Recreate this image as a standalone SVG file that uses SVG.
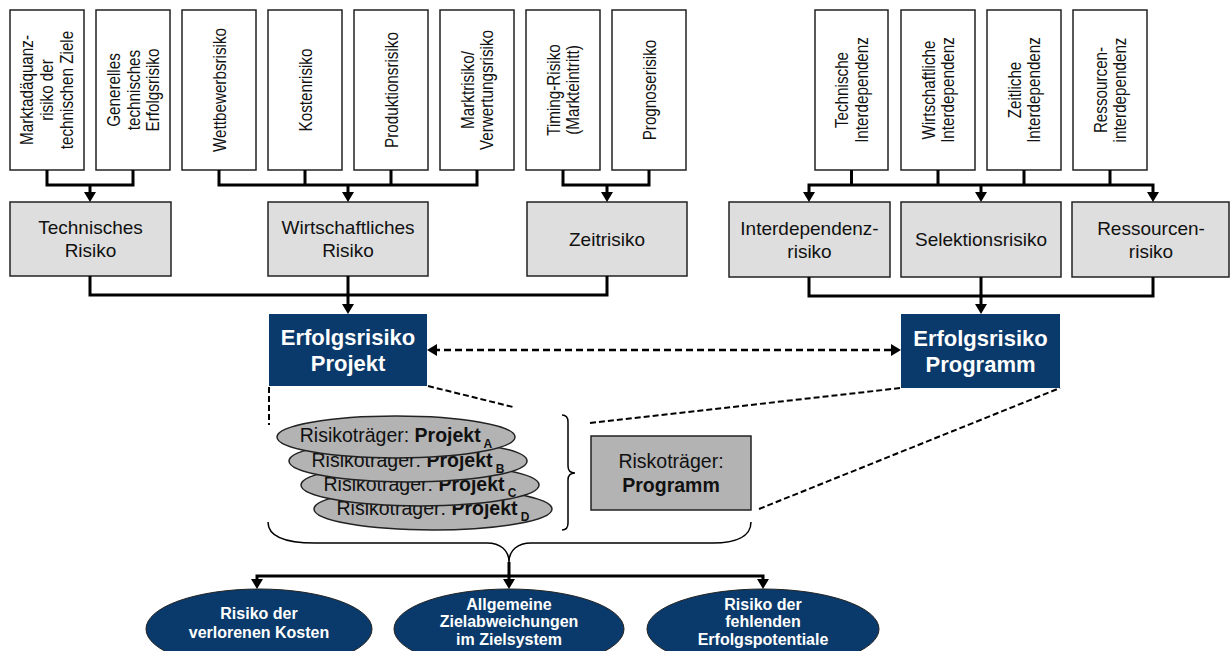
<svg xmlns="http://www.w3.org/2000/svg" width="1230" height="651" viewBox="0 0 1230 651">
  <defs>
    <style>
      text { font-family: "Liberation Sans", Arial, sans-serif; fill: #111; }
      .src { fill: #fff; stroke: #222; stroke-width: 1.5; }
      .vt { font-size: 17.5px; text-anchor: middle; }
      .cat { fill: #dedede; stroke: #222; stroke-width: 1.5; }
      .ct { font-size: 19px; text-anchor: middle; }
      .blue { fill: #0a3a6b; }
      .bt { font-size: 22px; font-weight: bold; fill: #fff; text-anchor: middle; }
      .car { fill: #b3b3b3; stroke: #222; stroke-width: 1.5; }
      .et { font-size: 19.5px; text-anchor: middle; }
      .b { font-weight: bold; }
      .sub { font-size: 12px; font-weight: bold; }
      .ot { font-size: 16px; font-weight: bold; fill: #fff; text-anchor: middle; }
      .ln { fill: none; stroke: #000; stroke-width: 3; stroke-linejoin: miter; }
      .dash { fill: none; stroke: #000; stroke-width: 2.5; stroke-dasharray: 7 4; }
      .dl { fill: none; stroke: #000; stroke-width: 2; stroke-dasharray: 6 3; }
      .brace { fill: none; stroke: #000; stroke-width: 1.5; }
    </style>
    <marker id="ah" markerUnits="userSpaceOnUse" viewBox="0 0 10 12" markerWidth="10" markerHeight="12" refX="4" refY="6" orient="auto-start-reverse">
      <path d="M0,0 L10,6 L0,12 Z" fill="#000" stroke="none"/>
    </marker>
  </defs>

  <!-- detailed risk sources (rotated, slightly condensed labels) -->
  <g id="src-marktadaequanz">
    <rect class="src" x="10" y="10" width="74" height="160"/>
    <text class="vt" transform="translate(47,90) rotate(-90) scale(0.87,1)"><tspan x="0" y="-14">Marktadäquanz-</tspan><tspan x="0" y="6">risiko der</tspan><tspan x="0" y="26">technischen Ziele</tspan></text>
  </g>
  <g id="src-generell">
    <rect class="src" x="96" y="10" width="74" height="160"/>
    <text class="vt" transform="translate(133,90) rotate(-90) scale(0.87,1)"><tspan x="0" y="-13">Generelles</tspan><tspan x="0" y="6.5">technisches</tspan><tspan x="0" y="26">Erfolgsrisiko</tspan></text>
  </g>
  <g id="src-wettbewerb">
    <rect class="src" x="182" y="10" width="74" height="160"/>
    <text class="vt" transform="translate(219,90) rotate(-90) scale(0.87,1)"><tspan x="0" y="6.5">Wettbewerbsrisiko</tspan></text>
  </g>
  <g id="src-kosten">
    <rect class="src" x="268" y="10" width="74" height="160"/>
    <text class="vt" transform="translate(305,90) rotate(-90) scale(0.87,1)"><tspan x="0" y="6.5">Kostenrisiko</tspan></text>
  </g>
  <g id="src-produktion">
    <rect class="src" x="354" y="10" width="74" height="160"/>
    <text class="vt" transform="translate(391,90) rotate(-90) scale(0.87,1)"><tspan x="0" y="6.5">Produktionsrisiko</tspan></text>
  </g>
  <g id="src-markt">
    <rect class="src" x="440" y="10" width="74" height="160"/>
    <text class="vt" transform="translate(477,90) rotate(-90) scale(0.87,1)"><tspan x="0" y="-3.5">Marktrisiko/</tspan><tspan x="0" y="16">Verwertungsrisiko</tspan></text>
  </g>
  <g id="src-timing">
    <rect class="src" x="526" y="10" width="74" height="160"/>
    <text class="vt" transform="translate(563,90) rotate(-90) scale(0.87,1)"><tspan x="0" y="-3.5">Timing-Risiko</tspan><tspan x="0" y="16">(Markteintritt)</tspan></text>
  </g>
  <g id="src-prognose">
    <rect class="src" x="612" y="10" width="74" height="160"/>
    <text class="vt" transform="translate(649,90) rotate(-90) scale(0.87,1)"><tspan x="0" y="6.5">Prognoserisiko</tspan></text>
  </g>
  <g id="src-tech-interdep">
    <rect class="src" x="815" y="10" width="73" height="160"/>
    <text class="vt" transform="translate(851.5,90) rotate(-90) scale(0.87,1)"><tspan x="0" y="-3.5">Technische</tspan><tspan x="0" y="16">Interdependenz</tspan></text>
  </g>
  <g id="src-wirt-interdep">
    <rect class="src" x="901" y="10" width="74" height="160"/>
    <text class="vt" transform="translate(938,90) rotate(-90) scale(0.87,1)"><tspan x="0" y="-3.5">Wirtschaftliche</tspan><tspan x="0" y="16">Interdependenz</tspan></text>
  </g>
  <g id="src-zeit-interdep">
    <rect class="src" x="987" y="10" width="74" height="160"/>
    <text class="vt" transform="translate(1024,90) rotate(-90) scale(0.87,1)"><tspan x="0" y="-3.5">Zeitliche</tspan><tspan x="0" y="16">Interdependenz</tspan></text>
  </g>
  <g id="src-ressourcen-interdep">
    <rect class="src" x="1073" y="10" width="74" height="160"/>
    <text class="vt" transform="translate(1110,90) rotate(-90) scale(0.87,1)"><tspan x="0" y="-3.5">Ressourcen-</tspan><tspan x="0" y="16">interdependenz</tspan></text>
  </g>

  <!-- risk categories -->
  <g id="cat-technisch">
    <rect class="cat" x="10" y="202" width="161" height="74"/>
    <text class="ct" x="90.5" y="234">Technisches</text>
    <text class="ct" x="90.5" y="257">Risiko</text>
  </g>
  <g id="cat-wirtschaftlich">
    <rect class="cat" x="268" y="202" width="160" height="74"/>
    <text class="ct" x="348" y="234">Wirtschaftliches</text>
    <text class="ct" x="348" y="257">Risiko</text>
  </g>
  <g id="cat-zeit">
    <rect class="cat" x="527" y="202" width="160" height="74"/>
    <text class="ct" x="607" y="246">Zeitrisiko</text>
  </g>
  <g id="cat-interdependenz">
    <rect class="cat" x="729" y="202" width="161" height="75"/>
    <text class="ct" x="809.5" y="235">Interdependenz-</text>
    <text class="ct" x="809.5" y="258">risiko</text>
  </g>
  <g id="cat-selektion">
    <rect class="cat" x="901" y="202" width="160" height="75"/>
    <text class="ct" x="981" y="246">Selektionsrisiko</text>
  </g>
  <g id="cat-ressourcen">
    <rect class="cat" x="1072" y="202" width="157" height="75"/>
    <text class="ct" x="1151" y="235">Ressourcen-</text>
    <text class="ct" x="1151" y="258">risiko</text>
  </g>

  <!-- aggregated success risk -->
  <g id="erfolg-projekt">
    <rect class="blue" x="269" y="314" width="158" height="72"/>
    <text class="bt" x="348" y="345">Erfolgsrisiko</text>
    <text class="bt" x="348" y="371">Projekt</text>
  </g>
  <g id="erfolg-programm">
    <rect class="blue" x="901" y="314" width="159" height="74"/>
    <text class="bt" x="980.5" y="346">Erfolgsrisiko</text>
    <text class="bt" x="980.5" y="372">Programm</text>
  </g>

  <!-- risk carriers: stacked projects (back to front) -->
  <g id="traeger-projekt-d">
    <ellipse class="car" cx="433" cy="509" rx="119" ry="21"/>
    <text class="et" x="433" y="515">Risikoträger: <tspan class="b">Projekt</tspan><tspan class="sub" dy="6"> D</tspan></text>
  </g>
  <g id="traeger-projekt-c">
    <ellipse class="car" cx="420" cy="485" rx="119" ry="21"/>
    <text class="et" x="420" y="491">Risikoträger: <tspan class="b">Projekt</tspan><tspan class="sub" dy="6"> C</tspan></text>
  </g>
  <g id="traeger-projekt-b">
    <ellipse class="car" cx="408" cy="461" rx="119" ry="21"/>
    <text class="et" x="408" y="467">Risikoträger: <tspan class="b">Projekt</tspan><tspan class="sub" dy="6"> B</tspan></text>
  </g>
  <g id="traeger-projekt-a">
    <ellipse class="car" cx="396" cy="437" rx="119" ry="21"/>
    <text class="et" x="396" y="442">Risikoträger: <tspan class="b">Projekt</tspan><tspan class="sub" dy="6"> A</tspan></text>
  </g>
  <g id="traeger-programm">
    <rect class="car" x="591" y="436" width="160" height="74"/>
    <text class="et" x="671" y="468">Riskoträger:</text>
    <text class="et b" x="671" y="492">Programm</text>
  </g>

  <!-- outcomes -->
  <g id="out-kosten">
    <ellipse class="blue" cx="259" cy="629" rx="113" ry="40" stroke="#222" stroke-width="1"/>
    <text class="ot" x="259" y="619">Risiko der</text>
    <text class="ot" x="259" y="638">verlorenen Kosten</text>
  </g>
  <g id="out-zielabweichung">
    <ellipse class="blue" cx="509" cy="629" rx="115" ry="40" stroke="#222" stroke-width="1"/>
    <text class="ot" x="509" y="610">Allgemeine</text>
    <text class="ot" x="509" y="627">Zielabweichungen</text>
    <text class="ot" x="509" y="645">im Zielsystem</text>
  </g>
  <g id="out-potentiale">
    <ellipse class="blue" cx="763" cy="629" rx="116" ry="40" stroke="#222" stroke-width="1"/>
    <text class="ot" x="763" y="610">Risiko der</text>
    <text class="ot" x="763" y="627">fehlenden</text>
    <text class="ot" x="763" y="645">Erfolgspotentiale</text>
  </g>

  <!-- connectors -->
  <g id="connectors">
    <!-- sources to categories -->
    <path class="ln" d="M47,170 V185 H133 V170"/>
    <path class="ln" d="M90,185 V196" marker-end="url(#ah)"/>
    <path class="ln" d="M219,170 V185 H477 V170 M305,170 V185 M391,170 V185"/>
    <path class="ln" d="M348,185 V196" marker-end="url(#ah)"/>
    <path class="ln" d="M563,170 V185 H649 V170"/>
    <path class="ln" d="M607,185 V196" marker-end="url(#ah)"/>
    <path class="ln" d="M851.5,170 V185 M938,170 V185 M1024,170 V185 M1110,170 V185"/>
    <path class="ln" d="M809,196 V185 H1153 V196" marker-start="url(#ah)" marker-end="url(#ah)"/>
    <path class="ln" d="M981,185 V196" marker-end="url(#ah)"/>

    <!-- categories to success risk -->
    <path class="ln" d="M90,276 V295 H607 V276"/>
    <path class="ln" d="M348,276 V308" marker-end="url(#ah)"/>
    <path class="ln" d="M809,277 V296 H1153 V277"/>
    <path class="ln" d="M981,277 V308" marker-end="url(#ah)"/>

    <!-- project / programme interaction -->
    <path class="dash" d="M433,350 H895" marker-start="url(#ah)" marker-end="url(#ah)"/>

    <!-- zoom lines to the risk carriers -->
    <path class="dl" d="M269,387 V425"/>
    <path class="dl" d="M428,386 L513,407"/>
    <path class="dl" d="M590,423 L901,388"/>
    <path class="dl" d="M759,509 L1060,388"/>

    <!-- braces -->
    <path class="brace" d="M562,415 Q568,415 568,422 V466 Q568,473 575,473 Q568,473 568,480 V523 Q568,530 562,530"/>
    <path class="brace" d="M268,522 C268,537 285,543 315,543 H487 C500,543 509,550 509,562 C509,550 518,543 531,543 H713 C735,543 751,537 751,522"/>

    <!-- to outcomes -->
    <path class="ln" d="M257,583 V576 H763 V583" marker-start="url(#ah)" marker-end="url(#ah)"/>
    <path class="ln" d="M509,562 V583" marker-end="url(#ah)"/>
  </g>
</svg>
